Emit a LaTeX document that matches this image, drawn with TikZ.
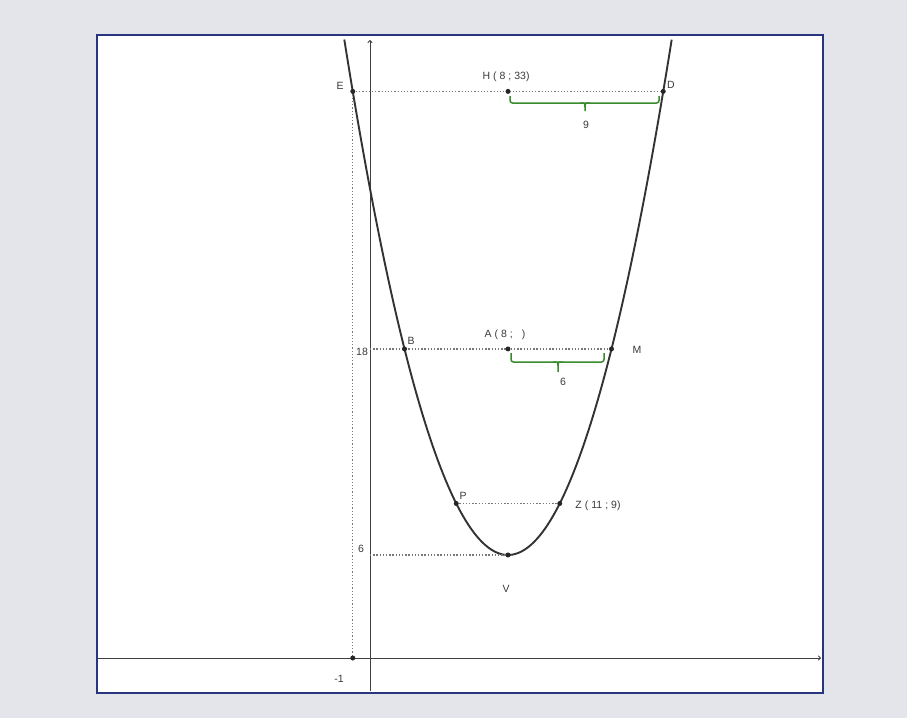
\documentclass[tikz,border=0pt]{standalone}
\usepackage{fontspec}
\setmainfont{Liberation Sans}
\usetikzlibrary{arrows.meta}
\definecolor{bgc}{HTML}{E4E5EA}
\definecolor{framec}{HTML}{27367E}
\definecolor{bracec}{HTML}{3A8A2E}
\definecolor{txt}{HTML}{3A3A3A}
\definecolor{dotc}{HTML}{777777}
\newcommand\lgap{\hspace{3pt}}
\tikzset{
  pt/.style={circle,fill=black!85,inner sep=0pt,minimum size=5pt},
  lab/.style={font=\fontsize{10.5}{12}\selectfont,text=txt,inner sep=1pt},
  dots/.style={dotc,line width=1.3pt,dash pattern=on 1.3pt off 1.9pt},
  axis/.style={black!75,line width=1pt,-{To[length=3pt,width=5pt]}},
  curve/.style={black!80,line width=1.9pt},
  brc/.style={bracec,line width=1.5pt,rounded corners=2.5pt},
}
\begin{document}
\begin{tikzpicture}[x=1pt,y=-1pt]
\useasboundingbox (0,0) rectangle (907,718);
\fill[bgc] (0,0) rectangle (907,718);
\draw[framec,line width=2pt,fill=white] (97,35) rectangle (823,693);
% axes
\coordinate (xl) at (98,658);
\coordinate (xr) at (821,658);
\coordinate (yb) at (370,691);
\coordinate (yt) at (370,40);
\draw[axis] (xl) -- (xr);
\draw[axis] (yb) -- (yt);
% parabola
\begin{scope}[shift={(370,658)},x=17.25pt,y=17.17pt]
  \draw[curve] plot[domain=-1.49:17.49,samples=120,smooth] (\x,{6+(\x-8)^2/3});
  \coordinate (E) at (-1,33);
  \coordinate (H) at (8,33);
  \coordinate (D) at (17,33);
  \coordinate (B) at (2,18);
  \coordinate (A) at (8,18);
  \coordinate (M) at (14,18);
  \coordinate (P) at (5,9);
  \coordinate (Z) at (11,9);
  \coordinate (V) at (8,6);
  \coordinate (X1) at (-1,0);
  \coordinate (Y18) at (0,18);
  \coordinate (Y6) at (0,6);
\end{scope}
% dotted guides
\draw[dots] (E) -- (D);
\draw[dots] (E) -- (X1);
\draw[dots] (Y18) -- (M);
\draw[dots] (P) -- (Z);
\draw[dots] (Y6) -- (V);
% braces
\draw[brc] (510,96) -- (510,103) -- (659,103) -- (659,96);
\draw[bracec,line width=1.5pt] (580,103) .. controls (585,103) .. (585,107) -- (585,111);
\draw[bracec,line width=1.5pt] (590,103) .. controls (585,103) .. (585,107);
\node[lab] (n9) at (586,125) {9};
\draw[brc] (511,353) -- (511,362) -- (604,362) -- (604,353);
\draw[bracec,line width=1.5pt] (553,362) .. controls (558,362) .. (558,366) -- (558,372);
\draw[bracec,line width=1.5pt] (563,362) .. controls (558,362) .. (558,366);
\node[lab] (n6) at (563,382) {6};
% points
\foreach \p in {E,H,D,B,A,M,P,Z,V,X1} \node[pt] (pt\p) at (\p) {};
% labels
\node[lab] (lE) at (340,86) {E};
\node[lab] (lH) at (506,77) {H\lgap(\lgap8\lgap;\lgap33)};
\node[lab] (lD) at (671,85) {D};
\node[lab] (lB) at (411,341) {B};
\node[lab] (l18) at (362,352) {18};
\node[lab] (lA) at (505,335) {A\lgap(\lgap8\lgap;\lgap\lgap\lgap)};
\node[lab] (lM) at (637,350) {M};
\node[lab] (lP) at (463,496) {P};
\node[lab] (lZ) at (598,506) {Z\lgap(\lgap11\lgap;\lgap9)};
\node[lab] (l6) at (361,549) {6};
\node[lab] (lV) at (506,589) {V};
\node[lab] (lm1) at (339,679) {-1};
\end{tikzpicture}
\end{document}
